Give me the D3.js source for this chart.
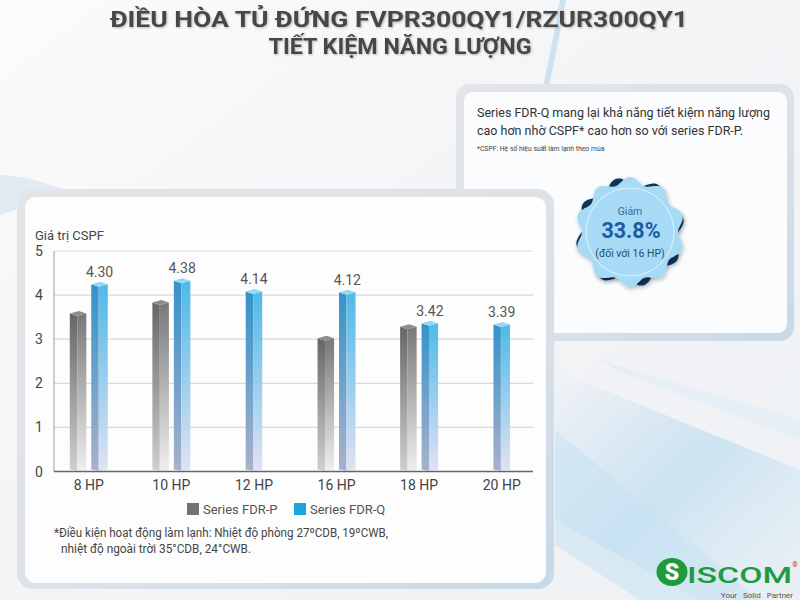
<!DOCTYPE html>
<html>
<head>
<meta charset="utf-8">
<script src="https://cdn.jsdelivr.net/npm/d3@7"></script>
<style>
  body { margin: 0; background: #f4f5f7; }
  svg { display: block; font-family: Roboto, "Noto Sans", sans-serif; }
</style>
</head>
<body>
<div id="chart"></div>
<script>
// chart values
const categories = ['8 HP', '10 HP', '12 HP', '16 HP', '18 HP', '20 HP'];
const seriesP = [3.64, 3.89, null, 3.08, 3.34, null];
const seriesQ = [4.30, 4.38, 4.14, 4.12, 3.42, 3.39];
const yTicks = [0, 1, 2, 3, 4, 5];
const seriesNames = ['Series FDR-P', 'Series FDR-Q'];

const W = 800, H = 600;
const svg = d3.select('#chart').append('svg')
  .attr('width', W).attr('height', H);

const defs = svg.append('defs');

function grad(id, stops, x2 = 0, y2 = 1) {
  const g = defs.append('linearGradient').attr('id', id)
    .attr('x1', 0).attr('y1', 0).attr('x2', x2).attr('y2', y2);
  stops.forEach(s => g.append('stop').attr('offset', s[0]).attr('stop-color', s[1]).attr('stop-opacity', s[2] ?? 1));
}
grad('bg', [[0, '#fbfbfc'], [0.5, '#f3f4f6'], [1, '#eef1f4']], 1, 1);
grad('frame', [[0, '#e3e5e8'], [0.55, '#dde2e7'], [1, '#c6d9e7']], 1, 1);
grad('swoosh', [[0, '#bcdcf0', 0.0], [0.5, '#bcdcf0', 0.7], [1, '#d8ebf6', 0.2]], 1, 1);
grad('pL', [[0, '#666666'], [1, '#cfcfcf']]);
grad('pR', [[0, '#787878'], [1, '#efefef']]);
grad('qL', [[0, '#3493c9'], [1, '#a9b0cc']]);
grad('qR', [[0, '#4fb9e8'], [1, '#dfe2f3']]);

const shadow = defs.append('filter').attr('id', 'sh')
  .attr('x', '-20%').attr('y', '-20%').attr('width', '140%').attr('height', '140%');
shadow.append('feDropShadow').attr('dx', 1).attr('dy', 2).attr('stdDeviation', 2)
  .attr('flood-color', '#000').attr('flood-opacity', 0.25);

// background + decoration
svg.append('rect').attr('width', W).attr('height', H).attr('fill', 'url(#bg)');
svg.append('path').attr('d', 'M560,0 Q548,70 522,180 L527,180 Q552,80 566,0 Z')
  .attr('fill', '#9fcbe6').attr('opacity', 0.45);
svg.append('path').attr('d', 'M0,175 Q30,176 70,192 L0,215 Z')
  .attr('fill', '#d6e6f1').attr('opacity', 0.7);
svg.append('path').attr('d', 'M555,370 L800,470 L800,600 L700,600 L555,520 Z')
  .attr('fill', 'url(#swoosh)');
svg.append('path').attr('d', 'M555,430 L760,600 L640,600 L555,545 Z')
  .attr('fill', '#c6e2f3').attr('opacity', 0.55);
svg.append('path').attr('d', 'M600,360 L800,420 L800,440 L620,372 Z')
  .attr('fill', '#e4eef5').attr('opacity', 0.8);

// title
const title = svg.append('g').attr('fill', '#474747').attr('font-weight', 700)
  .attr('text-anchor', 'middle').attr('font-size', 22)
  .style('filter', 'drop-shadow(1px 1px 1px rgba(0,0,0,0.25))');
title.append('text').attr('x', 399).attr('y', 27)
  .attr('textLength', 578).attr('lengthAdjust', 'spacingAndGlyphs')
  .text('ĐIỀU HÒA TỦ ĐỨNG FVPR300QY1/RZUR300QY1');
title.append('text').attr('x', 400).attr('y', 54)
  .attr('textLength', 263).attr('lengthAdjust', 'spacingAndGlyphs')
  .text('TIẾT KIỆM NĂNG LƯỢNG');

// right info panel
svg.append('rect').attr('x', 456).attr('y', 84).attr('width', 338).attr('height', 257)
  .attr('rx', 14).attr('fill', 'url(#frame)');
svg.append('rect').attr('x', 464).attr('y', 92).attr('width', 323).attr('height', 241)
  .attr('rx', 9).attr('fill', '#fbfcfd');
const info = svg.append('g').attr('fill', '#333');
info.append('text').attr('x', 477).attr('y', 117).attr('font-size', 13)
  .attr('textLength', 293).attr('lengthAdjust', 'spacingAndGlyphs')
  .text('Series FDR-Q mang lại khả năng tiết kiệm năng lượng');
info.append('text').attr('x', 477).attr('y', 135).attr('font-size', 13)
  .attr('textLength', 266).attr('lengthAdjust', 'spacingAndGlyphs')
  .text('cao hơn nhờ CSPF* cao hơn so với series FDR-P.');
info.append('text').attr('x', 477).attr('y', 151).attr('font-size', 6.8)
  .attr('fill', '#444')
  .text('*CSPF: Hệ số hiệu suất làm lạnh theo mùa');

// badge
const bx = 630, by = 232;
function wavy(r0, amp, n, phase) {
  const pts = d3.range(0, 361, 2).map(a => {
    const t = a * Math.PI / 180;
    const r = r0 + amp * Math.cos(n * t + phase);
    return [bx + r * Math.sin(t), by - r * Math.cos(t)];
  });
  return d3.line().curve(d3.curveCardinalClosed)(pts);
}
svg.append('path').attr('d', wavy(50, 5, 8, Math.PI / 2 + Math.PI / 8))
  .attr('fill', '#0f3559').attr('filter', 'url(#sh)');
svg.append('path').attr('d', wavy(51.5, 3.5, 10, 0))
  .attr('fill', '#a7dbf5').attr('filter', 'url(#sh)');
svg.append('circle').attr('cx', bx).attr('cy', by).attr('r', 44)
  .attr('fill', 'none').attr('stroke', '#ffffff').attr('stroke-width', 0.8).attr('opacity', 0.8);
const badge = svg.append('g').attr('text-anchor', 'middle');
badge.append('text').attr('x', bx).attr('y', 215).attr('font-size', 10.5)
  .attr('fill', '#3e6a90').text('Giảm');
badge.append('text').attr('x', bx + 1).attr('y', 238).attr('font-size', 21.5)
  .attr('font-weight', 700).attr('fill', '#1c5aa5').text('33.8%');
badge.append('text').attr('x', bx).attr('y', 257).attr('font-size', 10.5)
  .attr('fill', '#2e4e6e').text('(đối với 16 HP)');

// chart panel
svg.append('rect').attr('x', 17).attr('y', 189).attr('width', 537).attr('height', 400)
  .attr('rx', 16).attr('fill', 'url(#frame)');
svg.append('rect').attr('x', 25).attr('y', 197).attr('width', 521).attr('height', 386)
  .attr('rx', 11).attr('fill', '#fdfdfd');

// scales
const x = d3.scaleBand().domain(categories).range([47.5, 543]);
const y = d3.scaleLinear().domain([0, 5]).range([471.5, 251]);
const sub = d3.scaleBand().domain(['P', 'Q']).range([-19, 19]).paddingInner(0.23);
const bw = sub.bandwidth();

const plot = svg.append('g');

// grid
plot.selectAll('line.grid').data(yTicks.filter(d => d > 0)).join('line')
  .attr('x1', 54).attr('x2', 533)
  .attr('y1', d => y(d)).attr('y2', d => y(d))
  .attr('stroke', '#d9d9d9').attr('stroke-width', 1.2);
plot.append('line').attr('x1', 54).attr('x2', 54).attr('y1', y(5)).attr('y2', y(0))
  .attr('stroke', '#9a9a9a').attr('stroke-width', 1);

// y tick labels
plot.selectAll('text.ytick').data(yTicks).join('text')
  .attr('x', 39).attr('y', d => y(d) + 5)
  .attr('text-anchor', 'middle').attr('font-size', 14).attr('fill', '#444')
  .text(d => d);
plot.append('text').attr('x', 35).attr('y', 240).attr('font-size', 13)
  .attr('fill', '#444').text('Giá trị CSPF');

// bars
const bars = [];
categories.forEach((c, i) => {
  const both = seriesP[i] != null;
  if (both) bars.push({ c, v: seriesP[i], s: 'P', x0: x(c) + x.bandwidth() / 2 + sub('P') });
  bars.push({ c, v: seriesQ[i], s: 'Q',
    x0: both ? x(c) + x.bandwidth() / 2 + sub('Q') : x(c) + x.bandwidth() / 2 - bw / 2 });
});

const base = y(0) - 2;
const cap = 2.5;
const barG = plot.selectAll('g.bar').data(bars).join('g').attr('class', 'bar');
barG.append('path')
  .attr('d', d => {
    const a = bw * 0.45, t = y(d.v);
    return `M${d.x0},${t + cap}L${d.x0 + a},${t + 2 * cap}L${d.x0 + a},${base + cap / 2}L${d.x0},${base}Z`;
  })
  .attr('fill', d => d.s === 'P' ? 'url(#pL)' : 'url(#qL)');
barG.append('path')
  .attr('d', d => {
    const a = bw * 0.45, t = y(d.v);
    return `M${d.x0 + a},${t + 2 * cap}L${d.x0 + bw},${t + cap}L${d.x0 + bw},${base}L${d.x0 + a},${base + cap / 2}Z`;
  })
  .attr('fill', d => d.s === 'P' ? 'url(#pR)' : 'url(#qR)');
barG.append('path')
  .attr('d', d => {
    const a = bw * 0.45, t = y(d.v);
    return `M${d.x0},${t + cap}L${d.x0 + a},${t + 2 * cap}L${d.x0 + bw},${t + cap}L${d.x0 + bw - a},${t}Z`;
  })
  .attr('fill', d => d.s === 'P' ? '#8c8c8c' : '#92d9f6');

// value labels for FDR-Q
plot.selectAll('text.val').data(bars.filter(d => d.s === 'Q')).join('text')
  .attr('x', d => d.x0 + bw / 2).attr('y', d => y(d.v) - 5)
  .attr('text-anchor', 'middle').attr('font-size', 14).attr('fill', '#555')
  .text(d => d3.format('.2f')(d.v));

// x axis
plot.append('line').attr('x1', 54).attr('x2', 533).attr('y1', y(0)).attr('y2', y(0))
  .attr('stroke', '#666').attr('stroke-width', 1.5);
plot.selectAll('text.xtick').data(categories).join('text')
  .attr('x', d => x(d) + x.bandwidth() / 2).attr('y', 490)
  .attr('text-anchor', 'middle').attr('font-size', 14).attr('fill', '#444')
  .text(d => d);

// legend
const legendColors = ['#737373', '#1ba5dc'];
const legX = [187, 294];
const leg = plot.selectAll('g.leg').data(seriesNames).join('g')
  .attr('transform', (d, i) => `translate(${legX[i]},503)`);
leg.append('rect').attr('width', 12).attr('height', 12).attr('fill', (d, i) => legendColors[i]);
leg.append('text').attr('x', 16).attr('y', 11).attr('font-size', 13).attr('fill', '#555')
  .text(d => d);

// footnote
const note = plot.append('g').attr('font-size', 12.5).attr('fill', '#444');
note.append('text').attr('x', 54).attr('y', 537)
  .attr('textLength', 334).attr('lengthAdjust', 'spacingAndGlyphs')
  .text('*Điều kiện hoạt động làm lạnh: Nhiệt độ phòng 27ºCDB, 19ºCWB,');
note.append('text').attr('x', 61).attr('y', 553)
  .attr('textLength', 190).attr('lengthAdjust', 'spacingAndGlyphs')
  .text('nhiệt độ ngoài trời 35°CDB, 24°CWB.');

// logo
const logo = svg.append('g');
logo.append('ellipse').attr('cx', 672).attr('cy', 572).attr('rx', 15.5).attr('ry', 14)
  .attr('fill', '#1f9a3d');
logo.append('text').attr('x', 672).attr('y', 580).attr('text-anchor', 'middle')
  .attr('font-size', 23).attr('font-weight', 900).attr('fill', '#fff').text('S');
logo.append('text').attr('x', 687).attr('y', 583).attr('font-size', 22)
  .attr('font-weight', 500).attr('fill', '#1f9a3d')
  .attr('textLength', 105).attr('lengthAdjust', 'spacingAndGlyphs').text('ISCOM');
logo.append('text').attr('x', 795).attr('y', 567).attr('font-size', 7)
  .attr('fill', '#c0392b').attr('text-anchor', 'middle').text('®');
logo.append('text').attr('x', 793).attr('y', 598).attr('font-size', 8)
  .attr('text-anchor', 'end').attr('fill', '#555').attr('word-spacing', 4)
  .text('Your Solid Partner');
</script>
</body>
</html>
